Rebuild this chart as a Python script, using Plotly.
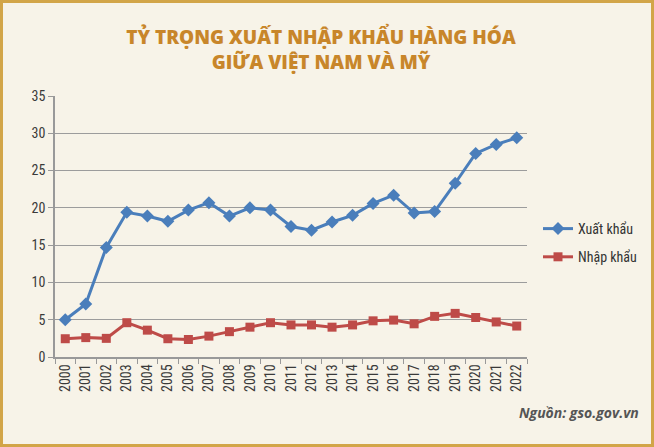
import plotly.graph_objects as go

years = [str(y) for y in range(2000, 2023)]
xuat_khau = [5.0, 7.1, 14.7, 19.4, 18.9, 18.2, 19.7, 20.7, 18.9, 20.0, 19.7,
             17.5, 17.0, 18.1, 19.0, 20.6, 21.7, 19.3, 19.5, 23.3, 27.3, 28.5, 29.4]
nhap_khau = [2.45, 2.6, 2.5, 4.6, 3.6, 2.45, 2.35, 2.8, 3.4, 4.0, 4.6,
             4.3, 4.3, 4.0, 4.3, 4.85, 4.95, 4.45, 5.45, 5.85, 5.3, 4.7, 4.15]
y_ticks = [0, 5, 10, 15, 20, 25, 30, 35]

W, H = 654, 447
ML, MR, MT, MB = 55, 127, 96, 90
PW, PH = W - ML - MR, H - MT - MB

BG = "#F7F3E8"
GOLD = "#D2A548"
NARROW = "Liberation Sans Narrow, Arial Narrow, Roboto Condensed, sans-serif"
TICKFONT = dict(family=NARROW, size=14, color="#3a3a3a")

fig = go.Figure()
fig.add_trace(go.Scatter(
    x=years, y=xuat_khau, name="Xuất khẩu", mode="lines+markers", legendgroup="a",
    line=dict(color="#4A7EBB", width=3),
    marker=dict(symbol="diamond", size=10, color="#4A7EBB"),
))
fig.add_trace(go.Scatter(
    x=years, y=nhap_khau, name="Nhập khẩu", mode="lines+markers", legendgroup="b",
    line=dict(color="#BE4B48", width=3),
    marker=dict(symbol="square", size=9, color="#BE4B48"),
))

fig.update_layout(
    width=W, height=H,
    margin=dict(l=ML, r=MR, t=MT, b=MB, pad=0, autoexpand=False),
    paper_bgcolor=BG, plot_bgcolor=BG,
    showlegend=True,
    legend=dict(xref="container", yref="container",
                x=538 / W, y=1 - 213 / H, xanchor="left", yanchor="top",
                bgcolor="rgba(0,0,0,0)", font=dict(family=NARROW, size=14, color="#333"),
                itemwidth=30, tracegroupgap=7),
    title=dict(
        text="TỶ TRỌNG XUẤT NHẬP KHẨU HÀNG HÓA<br>GIỮA VIỆT NAM VÀ MỸ",
        x=321 / W, xref="container", xanchor="center",
        y=1 - 44 / H, yanchor="middle",
        font=dict(family="Open Sans, sans-serif", size=19, color="#C8862A", weight=800),
    ),
    xaxis=dict(
        type="category", tickangle=-90, tickson="boundaries",
        ticks="outside", ticklen=5, tickcolor="#999",
        showline=True, linecolor="#999", linewidth=1.5,
        showgrid=False, tickfont=TICKFONT, range=[-0.5, 22.5],
    ),
    yaxis=dict(
        range=[0, 35], tickvals=y_ticks, ticks="outside", ticklen=5, tickcolor="#999",
        showline=True, linecolor="#999", linewidth=1.5,
        showgrid=True, gridcolor="#9c9c9c", gridwidth=1, zeroline=False,
        tickfont=TICKFONT,
    ),
)

fig.add_annotation(
    text="<i><b>Nguồn: gso.gov.vn</b></i>", xref="paper", yref="paper",
    x=(641 - ML) / PW, y=(357 - 412) / PH, xanchor="right", yanchor="middle",
    showarrow=False, font=dict(family="Open Sans, sans-serif", size=14, color="#555"),
)

# golden frame around the whole picture
b = 3
fig.add_shape(
    type="rect", xref="paper", yref="paper",
    x0=(b / 2 - ML) / PW, x1=(W - b / 2 - ML) / PW,
    y0=(-MB + b / 2) / PH, y1=(H - MB - b / 2) / PH,
    line=dict(color=GOLD, width=b), layer="above",
)

fig.write_html("out.html")
